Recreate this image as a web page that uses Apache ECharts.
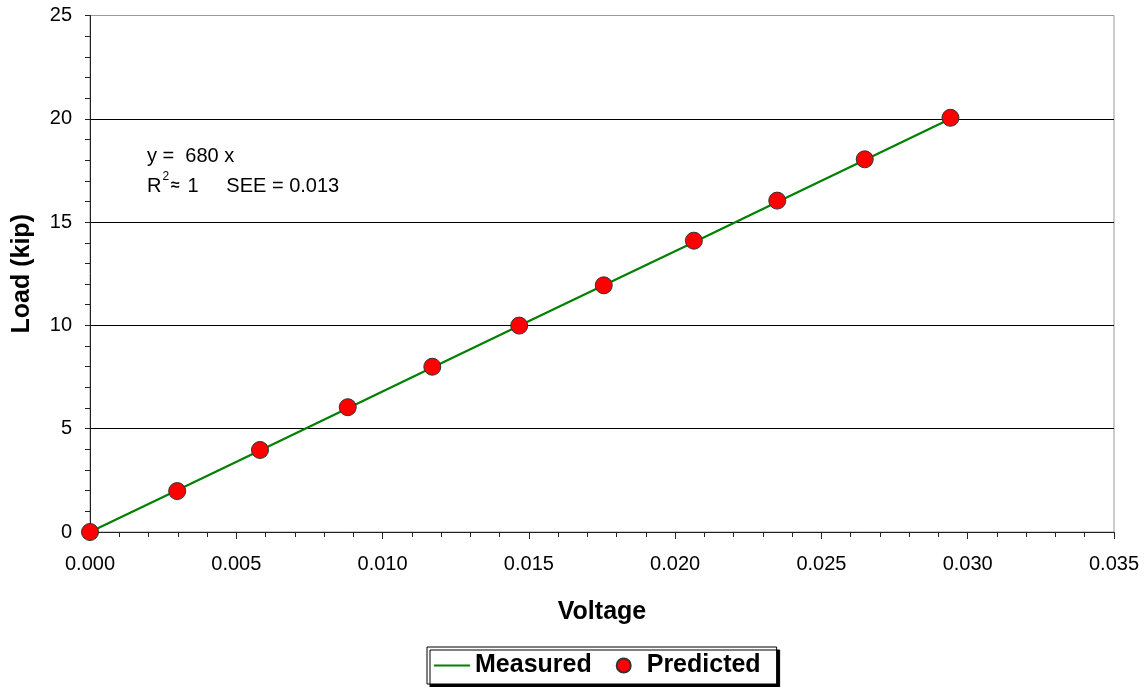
<!DOCTYPE html>
<html>
<head>
<meta charset="utf-8">
<script src="https://cdn.jsdelivr.net/npm/echarts@6/dist/echarts.min.js"></script>
<style>html,body{margin:0;padding:0;background:#fff}#c{width:1148px;height:687px}</style>
</head>
<body>
<div id="c"></div>
<script>
var voltage = [0, 0.00298, 0.00581, 0.00881, 0.0117, 0.01467, 0.01756, 0.02064, 0.02349, 0.02648, 0.02941];
var measuredLoad = [0, 2.02, 3.95, 5.99, 7.96, 9.98, 11.94, 14.03, 15.97, 18.01, 20.0];
var predictedLoad = [0, 1.98, 3.97, 6.04, 8.0, 9.99, 11.94, 14.10, 16.04, 18.04, 20.05];
var xTicks = { min: 0, max: 0.035, interval: 0.005 };
var yTicks = { min: 0, max: 25, interval: 5 };

var FONT = 'Liberation Sans, Arial, sans-serif';
function pairs(xs, ys) { return xs.map(function (x, i) { return [x, ys[i]]; }); }

var chart = echarts.init(document.getElementById('c'));
chart.setOption({
  animation: false,
  backgroundColor: '#fff',
  textStyle: { fontFamily: FONT },
  grid: { left: 90, right: 34, top: 15.5, bottom: 155, show: true, borderColor: '#999', borderWidth: 1, backgroundColor: 'transparent' },
  xAxis: {
    type: 'value', min: xTicks.min, max: xTicks.max, interval: xTicks.interval,
    name: 'Voltage', nameLocation: 'middle', nameGap: 68,
    nameTextStyle: { fontFamily: FONT, fontSize: 25, fontWeight: 'bold', color: '#000' },
    axisLine: { show: true, lineStyle: { color: '#222', width: 1 } },
    axisTick: { show: true, inside: false, length: 7, lineStyle: { color: '#222' } },
    minorTick: { show: true, splitNumber: 5, length: 5, lineStyle: { color: '#222' } },
    splitLine: { show: false },
    axisLabel: { fontFamily: FONT, fontSize: 20, color: '#000', margin: 22, formatter: function (v) { return v.toFixed(3); } }
  },
  yAxis: {
    type: 'value', min: yTicks.min, max: yTicks.max, interval: yTicks.interval,
    name: 'Load (kip)', nameLocation: 'middle', nameGap: 55, nameRotate: 90,
    nameTextStyle: { fontFamily: FONT, fontSize: 25, fontWeight: 'bold', color: '#000' },
    axisLine: { show: true, lineStyle: { color: '#222', width: 1 } },
    axisTick: { show: true, inside: false, length: 5, lineStyle: { color: '#222' } },
    minorTick: { show: true, splitNumber: 5, length: 5, lineStyle: { color: '#222' } },
    splitLine: { show: true, lineStyle: { color: ['#000', '#000', '#000', '#000', '#000', '#999'], width: 1 } },
    axisLabel: { fontFamily: FONT, fontSize: 20, color: '#000', margin: 18 }
  },
  legend: {
    left: 427, top: 647,
    orient: 'horizontal',
    padding: [6, 16, 6, 6],
    itemGap: 24,
    itemWidth: 36, itemHeight: 14,
    borderColor: '#000', borderWidth: 1,
    backgroundColor: '#fff',
    shadowColor: '#000', shadowBlur: 0, shadowOffsetX: 3, shadowOffsetY: 3,
    textStyle: { fontFamily: FONT, fontSize: 25, fontWeight: 'bold', color: '#000' },
    data: [
      { name: 'Measured', itemStyle: { opacity: 0 } },
      { name: 'Predicted', icon: 'circle' }
    ]
  },
  graphic: [{
    type: 'text', left: 147, top: 141,
    style: {
      text: 'y =  680 x\n{r|R}{sup|2}{ap|≈} 1     SEE = 0.013',
      fontFamily: FONT, fontSize: 20, fill: '#000', lineHeight: 30,
      rich: {
        r: { fontFamily: FONT, fontSize: 20, fill: '#000' },
        sup: { fontFamily: FONT, fontSize: 12, verticalAlign: 'top', padding: [0, 0, 10, 1], fill: '#000' },
        ap: { fontFamily: FONT, fontSize: 16, fontWeight: 'bold', fill: '#000', padding: [0, 2, 0, 2] }
      }
    }
  }],
  series: [
    {
      name: 'Measured', type: 'line', data: pairs(voltage, measuredLoad),
      symbol: 'none', showSymbol: false,
      lineStyle: { color: '#008000', width: 2.2 },
      itemStyle: { color: '#008000' },
      z: 3
    },
    {
      name: 'Predicted', type: 'scatter', data: pairs(voltage, predictedLoad),
      symbol: 'circle', symbolSize: 17, clip: false,
      itemStyle: { color: '#ff0000', borderColor: '#333', borderWidth: 1, opacity: 1 },
      z: 4
    }
  ]
});
</script>
</body>
</html>
